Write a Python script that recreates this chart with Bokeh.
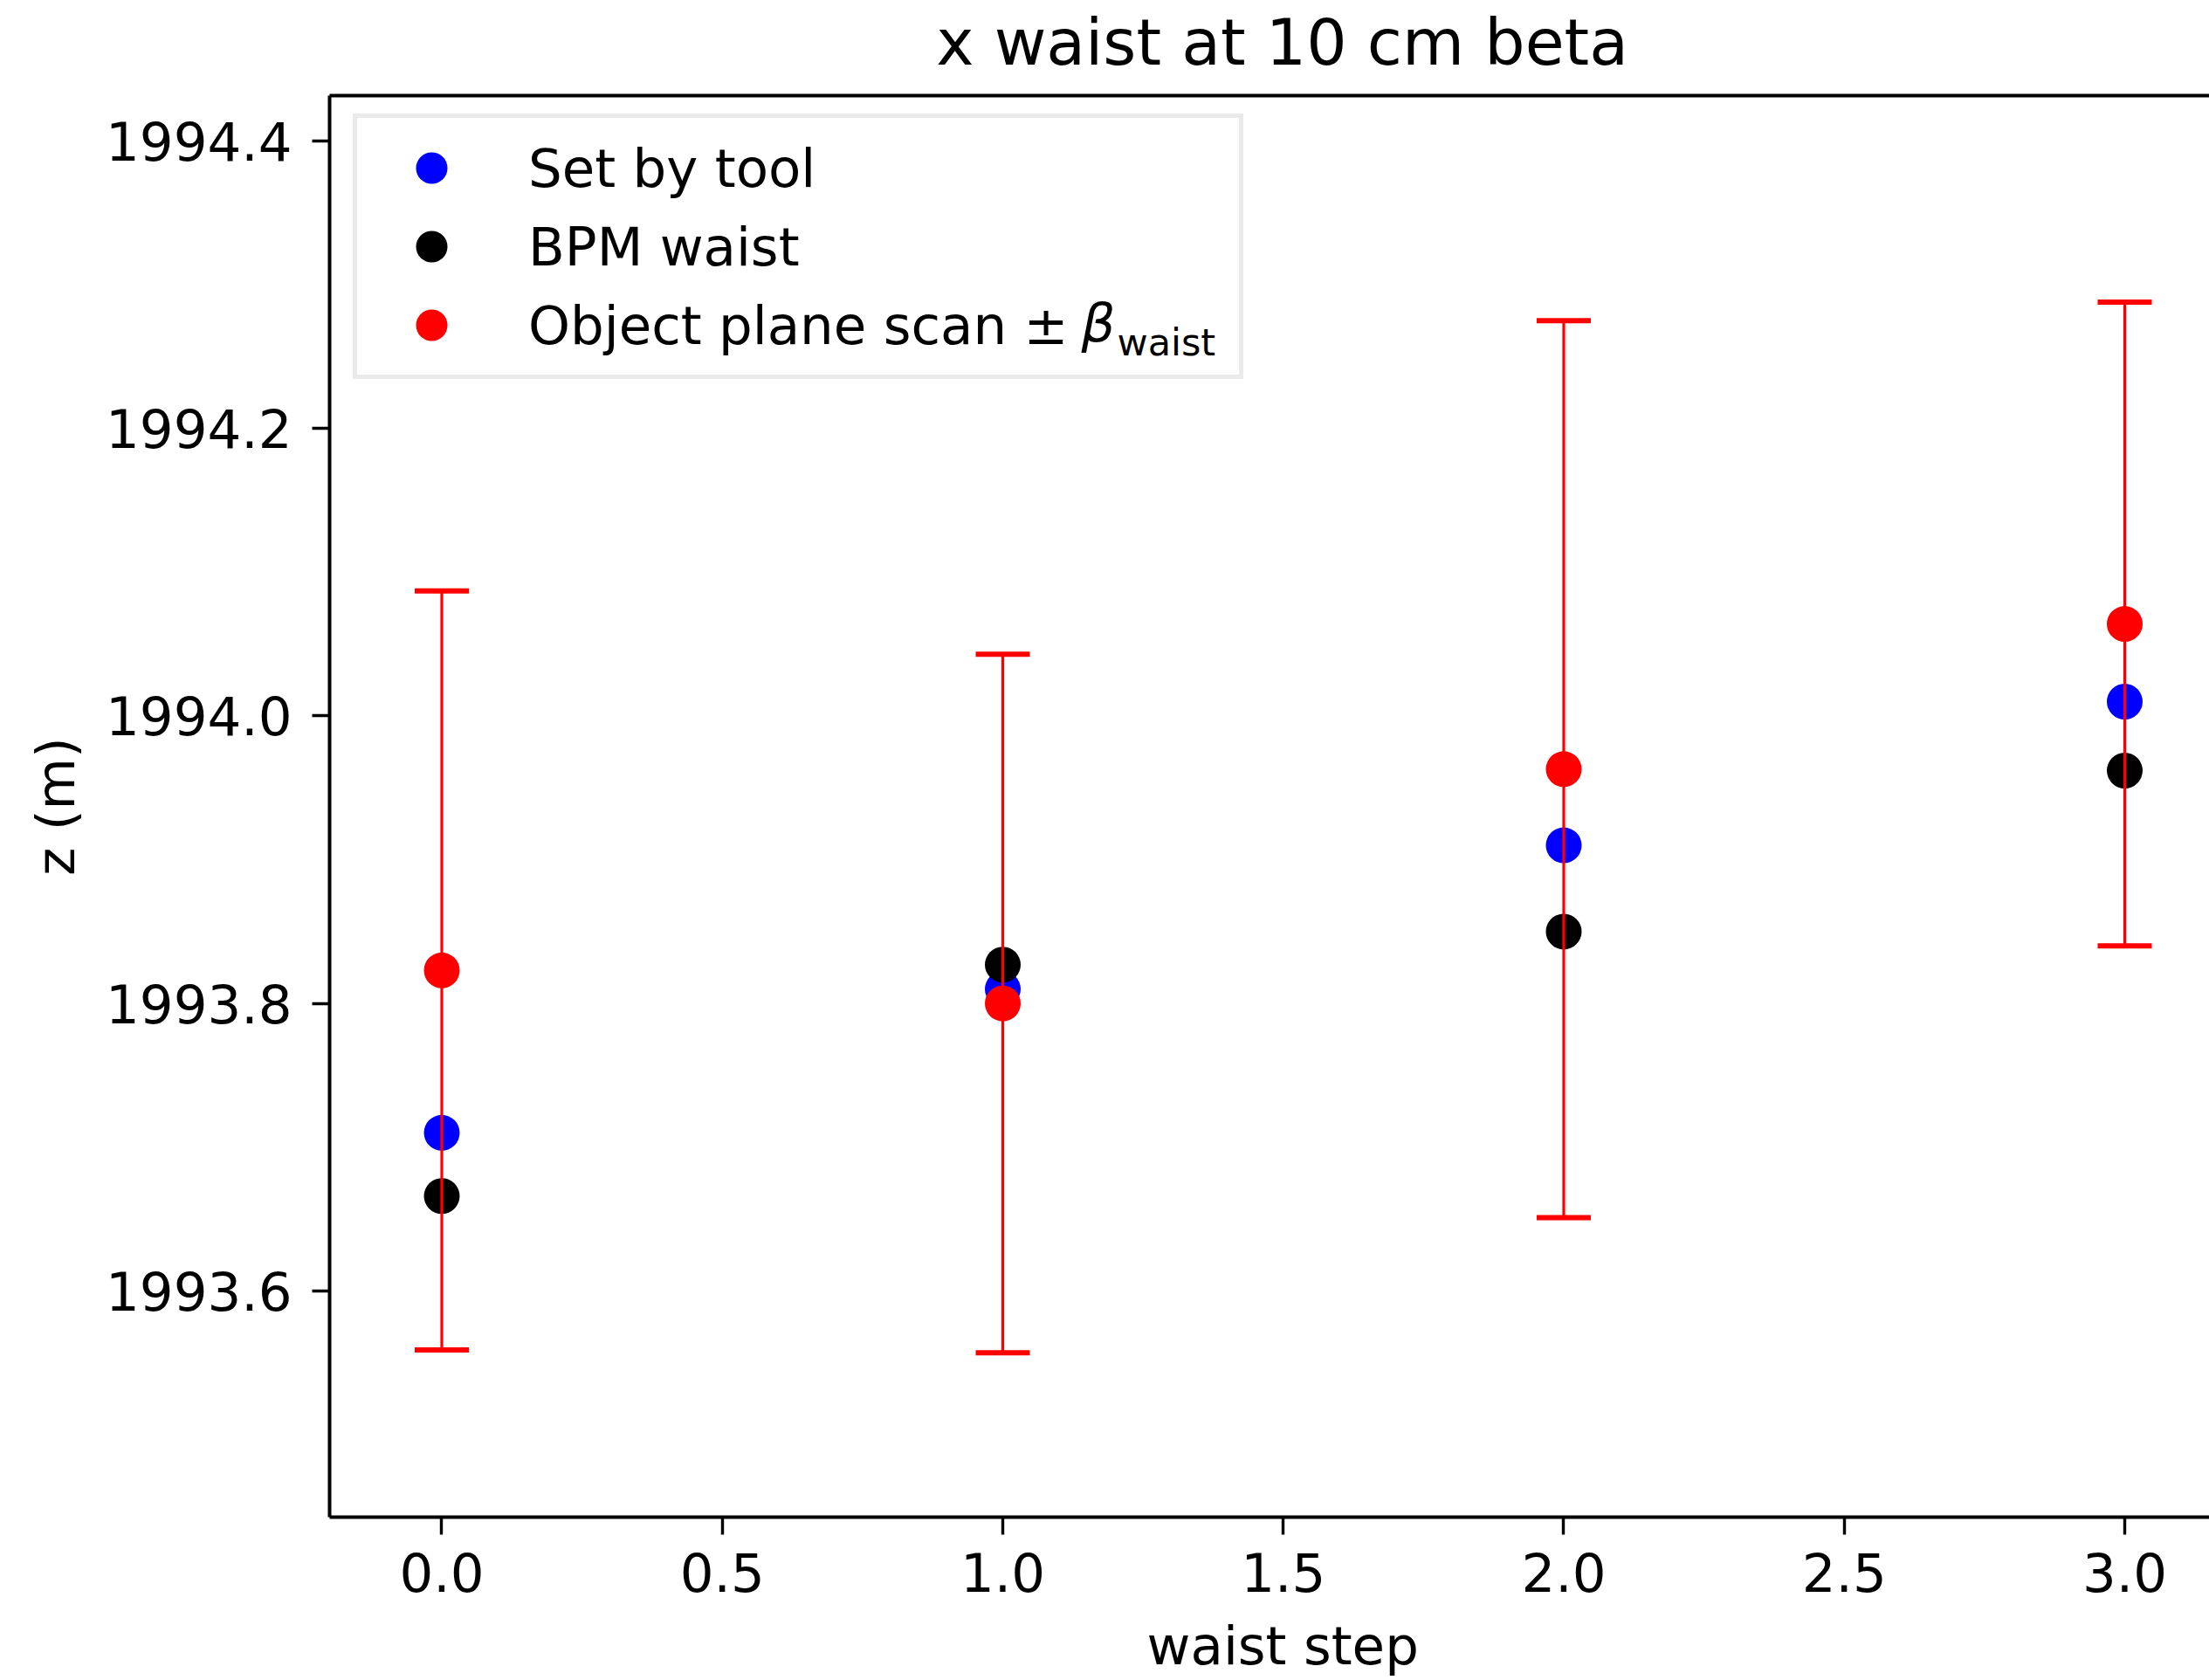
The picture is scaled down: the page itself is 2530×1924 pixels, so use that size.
from bokeh.plotting import figure
from bokeh.models import (Range1d, FixedTicker, PrintfTickFormatter, Label,
                          Legend, LegendItem, LinearAxis)
from bokeh.embed import file_html
from bokeh.resources import INLINE

# ---- data ----
steps = [0, 1, 2, 3]
set_by_tool = [1993.710, 1993.810, 1993.910, 1994.010]
bpm_waist = [1993.666, 1993.827, 1993.850, 1993.962]
object_scan = [1993.823, 1993.800, 1993.963, 1994.064]
beta_waist = [0.264, 0.243, 0.312, 0.224]
x_ticks = [0.0, 0.5, 1.0, 1.5, 2.0, 2.5, 3.0]
y_ticks = [1993.6, 1993.8, 1994.0, 1994.2, 1994.4]

upper = [o + b for o, b in zip(object_scan, beta_waist)]
lower = [o - b for o, b in zip(object_scan, beta_waist)]

FONT = "DejaVu Sans"
TICK_PX = "61px"

p = figure(width=2530, height=1924, output_backend="svg", toolbar_location=None,
           x_range=Range1d(-0.2, 3.151), y_range=Range1d(1993.4426, 1994.4316),
           min_border_left=377, min_border_right=0, min_border_top=109,
           min_border_bottom=187)
p.outline_line_color = None
p.grid.visible = False
p.background_fill_color = "white"
p.border_fill_color = "white"

# axes styling
for ax in (p.xaxis[0], p.yaxis[0]):
    ax.axis_line_width = 4
    ax.axis_line_color = "black"
    ax.major_tick_line_width = 3.4
    ax.major_tick_line_color = "black"
    ax.major_tick_out = 20
    ax.major_tick_in = 0
    ax.minor_tick_line_color = None
    ax.major_label_text_font = FONT
    ax.major_label_text_font_size = TICK_PX
    ax.major_label_text_color = "black"
    ax.formatter = PrintfTickFormatter(format="%.1f")
    ax.axis_label_text_font = FONT
    ax.axis_label_text_font_size = TICK_PX
    ax.axis_label_text_font_style = "normal"
    ax.axis_label_text_color = "black"

p.xaxis[0].ticker = FixedTicker(ticks=x_ticks)
p.xaxis[0].major_label_standoff = 20
# en-space prefix centres the label on the full (uncropped) axes like the reference
p.xaxis[0].axis_label = "\u2002waist step"
p.xaxis[0].axis_label_standoff = 23
p.yaxis[0].ticker = FixedTicker(ticks=y_ticks)
p.yaxis[0].major_label_standoff = 23
p.yaxis[0].axis_label = "z (m)"
p.yaxis[0].axis_label_standoff = 19

# top spine + title (as the label of a bare top axis)
top = LinearAxis(ticker=FixedTicker(ticks=[]), axis_line_width=4, axis_line_color="black",
                 major_tick_out=0, major_tick_in=0, minor_tick_line_color=None,
                 major_label_standoff=0, major_label_text_font_size="0px",
                 axis_label="\u2009\u2009x waist at 10 cm beta", axis_label_standoff=19,
                 axis_label_text_font=FONT, axis_label_text_font_size="73px",
                 axis_label_text_font_style="normal", axis_label_text_color="black")
p.add_layout(top, "above")

# ---- data marks ----
r_blue = p.scatter(steps, set_by_tool, size=41, fill_color="#0000ff", line_color=None)
r_black = p.scatter(steps, bpm_waist, size=41, fill_color="black", line_color=None)
p.segment(x0=steps, y0=lower, x1=steps, y1=upper, line_color="#ff0000", line_width=3.2)
p.scatter(steps + steps, upper + lower, marker="dash", size=62,
          line_color="#ff0000", line_width=6)
r_red = p.scatter(steps, object_scan, size=41, fill_color="#ff0000", line_color=None)

# ---- legend ----
legend = Legend(items=[
    LegendItem(label="Set by tool", renderers=[r_blue]),
    LegendItem(label="BPM waist", renderers=[r_black]),
    LegendItem(label="Object plane scan ±", renderers=[r_red]),
], location=(27, 1303))
legend.margin = 0
legend.padding = 12
legend.spacing = 0
legend.glyph_width = 146
legend.glyph_height = 90
legend.label_standoff = 38
legend.label_width = 802
legend.label_text_font = FONT
legend.label_text_font_size = TICK_PX
legend.label_text_color = "black"
legend.border_line_color = "#d6d6d6"
legend.border_line_width = 5
legend.background_fill_alpha = 0
p.add_layout(legend)

# beta with subscript in the legend label
p.add_layout(Label(x=861, y=1368, x_units="screen", y_units="screen", text="β",
                   text_font=FONT, text_font_size=TICK_PX, text_font_style="italic",
                   text_baseline="middle", text_align="left", text_color="black",
                   level="overlay"))
p.add_layout(Label(x=902, y=1346, x_units="screen", y_units="screen", text="waist",
                   text_font=FONT, text_font_size="43px",
                   text_baseline="middle", text_align="left", text_color="black",
                   level="overlay"))

open("out.html", "w").write(file_html(p, INLINE))
